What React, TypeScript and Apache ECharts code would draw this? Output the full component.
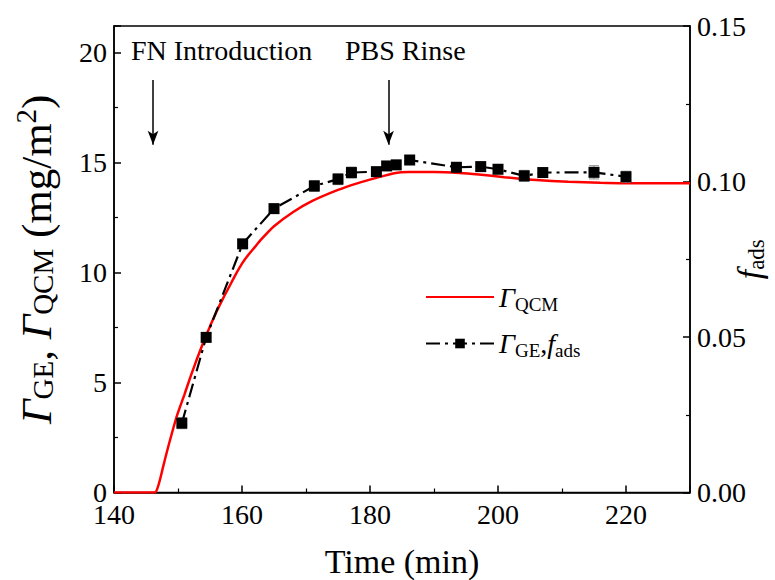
import React, { useEffect, useRef } from "react";
import * as echarts from "echarts";

const FONT = "Liberation Serif";

// QCM curve (time in min, Γ in mg/m²)
const qcmTime = [140, 146.4, 146.8, 147.2, 147.7, 148.4, 149.1, 149.9, 151, 152, 153, 154, 155, 156, 157, 158, 159, 160, 161, 162, 163, 165, 168, 171, 175, 178, 181, 184, 186, 190, 194, 197, 201, 206, 211, 216, 222, 230];
const qcmGamma = [0, 0, 0.2, 0.6, 1.2, 2.0, 2.75, 3.55, 4.45, 5.3, 6.1, 6.85, 7.55, 8.2, 8.8, 9.35, 9.9, 10.4, 10.8, 11.15, 11.5, 12.1, 12.75, 13.25, 13.75, 14.05, 14.3, 14.52, 14.56, 14.56, 14.52, 14.45, 14.33, 14.2, 14.12, 14.08, 14.05, 14.05];

// GE points
const geTime = [150.6, 154.4, 160.1, 165, 171.3, 175, 177.1, 181, 182.6, 184.1, 186.2, 193.5, 197.3, 200, 204.1, 207, 215, 220];
const geGamma = [3.15, 7.05, 11.3, 12.9, 13.93, 14.24, 14.54, 14.58, 14.84, 14.89, 15.11, 14.78, 14.81, 14.69, 14.39, 14.54, 14.55, 14.35];
const geErr = [0.25, 0.2, 0.2, 0.2, 0.25, 0.25, 0.25, 0.2, 0.2, 0.2, 0.2, 0.2, 0.2, 0.2, 0.25, 0.2, 0.3, 0.25];

const xTicks = { min: 140, max: 230, interval: 20 };
const yLeft = { min: 0, max: 21.2, interval: 5 };
const yRight = { min: 0, max: 0.15, interval: 0.05 };

const annotations = [
  { text: "FN Introduction", time: 146.1 },
  { text: "PBS Rinse", time: 182.9 },
];

export default function App() {
  const ref = useRef<HTMLDivElement>(null);
  useEffect(() => {
    if (!ref.current) return;
    const chart = echarts.init(ref.current, null, { renderer: "svg", width: 775, height: 580 });
    const qcmData = qcmTime.map((t, i) => [t, qcmGamma[i]]);
    const geData = geTime.map((t, i) => [t, geGamma[i]]);
    const errData = geTime.map((t, i) => [t, geGamma[i] - geErr[i], geGamma[i] + geErr[i]]);

    const axisCommon = {
      axisLine: { show: true, lineStyle: { color: "#000", width: 1.5 } },
      axisTick: { show: true, inside: true, length: 7, lineStyle: { color: "#000", width: 1.5 } },
      minorTick: { show: true, splitNumber: 2, length: 4, lineStyle: { color: "#000", width: 1.2 } },
      splitLine: { show: false },
      axisLabel: { color: "#000", fontSize: 28, fontFamily: FONT, lineHeight: 20 },
    };

    chart.setOption({
      animation: false,
      backgroundColor: "#fff",
      textStyle: { fontFamily: FONT },
      grid: {
        left: 114, right: 85, top: 26, bottom: 87.5,
        show: true, borderColor: "#000", borderWidth: 1.5,
        outerBoundsMode: "none", containLabel: false,
      },
      xAxis: {
        type: "value",
        min: xTicks.min,
        max: xTicks.max,
        interval: xTicks.interval,
        ...axisCommon,
        axisLabel: { ...axisCommon.axisLabel, margin: 12, showMaxLabel: false },
        name: "Time (min)",
        nameLocation: "middle",
        nameGap: 52,
        nameMoveOverlap: false,
        nameTextStyle: { color: "#000", fontSize: 34, fontFamily: FONT },
      },
      yAxis: [
        {
          type: "value",
          min: yLeft.min,
          max: yLeft.max,
          interval: yLeft.interval,
          ...axisCommon,
          axisLabel: { ...axisCommon.axisLabel, margin: 7, showMaxLabel: false },
          name: "{g|Γ}{s|GE}{n|, }{g|Γ}{s|QCM}{n| (mg/m}{p|2}{n|)}",
          nameLocation: "middle",
          nameRotate: 90,
          nameGap: 52,
          nameMoveOverlap: false,
          nameTextStyle: {
            color: "#000",
            fontFamily: FONT,
            rich: {
              g: { fontSize: 43, fontStyle: "italic", fontFamily: FONT, color: "#000" },
              s: { fontSize: 29, fontFamily: FONT, color: "#000", padding: [12, 0, 0, 0] },
              n: { fontSize: 43, fontFamily: FONT, color: "#000" },
              p: { fontSize: 29, fontFamily: FONT, color: "#000", padding: [0, 0, 22, 0] },
            },
          },
        },
        {
          type: "value",
          position: "right",
          min: yRight.min,
          max: yRight.max,
          interval: yRight.interval,
          ...axisCommon,
          axisLabel: { ...axisCommon.axisLabel, margin: 7, formatter: (v: number) => v.toFixed(2) },
          name: "{f|f}{s|ads}",
          nameLocation: "middle",
          nameRotate: 90,
          nameGap: 41,
          nameMoveOverlap: false,
          nameTextStyle: {
            color: "#000",
            fontFamily: FONT,
            rich: {
              f: { fontSize: 34, fontStyle: "italic", fontFamily: FONT, color: "#000" },
              s: { fontSize: 23, fontFamily: FONT, color: "#000", padding: [14, 0, 0, 0] },
            },
          },
        },
      ],
      legend: {
        orient: "vertical",
        left: 420,
        top: 278,
        itemWidth: 68,
        itemHeight: 12,
        itemGap: 16,
        data: [
          { name: "QCM", itemStyle: { opacity: 0 } },
          { name: "GE" },
        ],
        formatter: (name: string) =>
          name === "QCM" ? "{g|Γ}{s|QCM}" : "{g|Γ}{s|GE}{n|,}{g|f}{s|ads}",
        textStyle: {
          color: "#000",
          fontFamily: FONT,
          rich: {
            g: { fontSize: 28, fontStyle: "italic", fontFamily: FONT, color: "#000" },
            s: { fontSize: 19, fontFamily: FONT, color: "#000", padding: [14, 0, 0, 0] },
            n: { fontSize: 28, fontFamily: FONT, color: "#000" },
          },
        },
      },
      graphic: annotations.map((a, i) => ({
        type: "text",
        left: i === 0 ? 131 : 345,
        top: 36,
        style: { text: a.text, fontSize: 28, fontFamily: FONT, fill: "#000" },
        silent: true,
      })),
      series: [
        {
          name: "QCM",
          type: "line",
          yAxisIndex: 0,
          data: qcmData,
          symbol: "none",
          smooth: 0.2,
          lineStyle: { color: "#ff0000", width: 2.5 },
          itemStyle: { color: "#ff0000" },
          z: 2,
        },
        {
          name: "errors",
          type: "custom",
          yAxisIndex: 0,
          data: errData,
          encode: { x: 0, y: [1, 2] },
          z: 3,
          renderItem: (params: any, api: any) => {
            const lo = api.coord([api.value(0), api.value(1)]);
            const hi = api.coord([api.value(0), api.value(2)]);
            const w = 5;
            const style = { stroke: "#888", lineWidth: 1 };
            return {
              type: "group",
              children: [
                { type: "line", shape: { x1: lo[0], y1: lo[1], x2: hi[0], y2: hi[1] }, style },
                { type: "line", shape: { x1: lo[0] - w, y1: lo[1], x2: lo[0] + w, y2: lo[1] }, style },
                { type: "line", shape: { x1: hi[0] - w, y1: hi[1], x2: hi[0] + w, y2: hi[1] }, style },
              ],
            };
          },
        },
        {
          name: "GE",
          type: "line",
          yAxisIndex: 0,
          data: geData,
          symbol: "rect",
          symbolSize: 11,
          lineStyle: { color: "#000", width: 2.2, type: [14, 5, 3, 5] },
          itemStyle: { color: "#000" },
          z: 4,
          markLine: {
            silent: true,
            symbol: ["none", "arrow"],
            symbolSize: [8, 14],
            label: { show: false },
            lineStyle: { color: "#000", width: 1.5, type: "solid" },
            data: annotations.map((a) => [
              { coord: [a.time, 18.75] },
              { coord: [a.time, 15.8] },
            ]),
          },
        },
      ],
    });
    return () => chart.dispose();
  }, []);
  return (
    <div
      ref={ref}
      style={{ position: "absolute", left: 0, top: 0, width: 775, height: 580 }}
    />
  );
}
